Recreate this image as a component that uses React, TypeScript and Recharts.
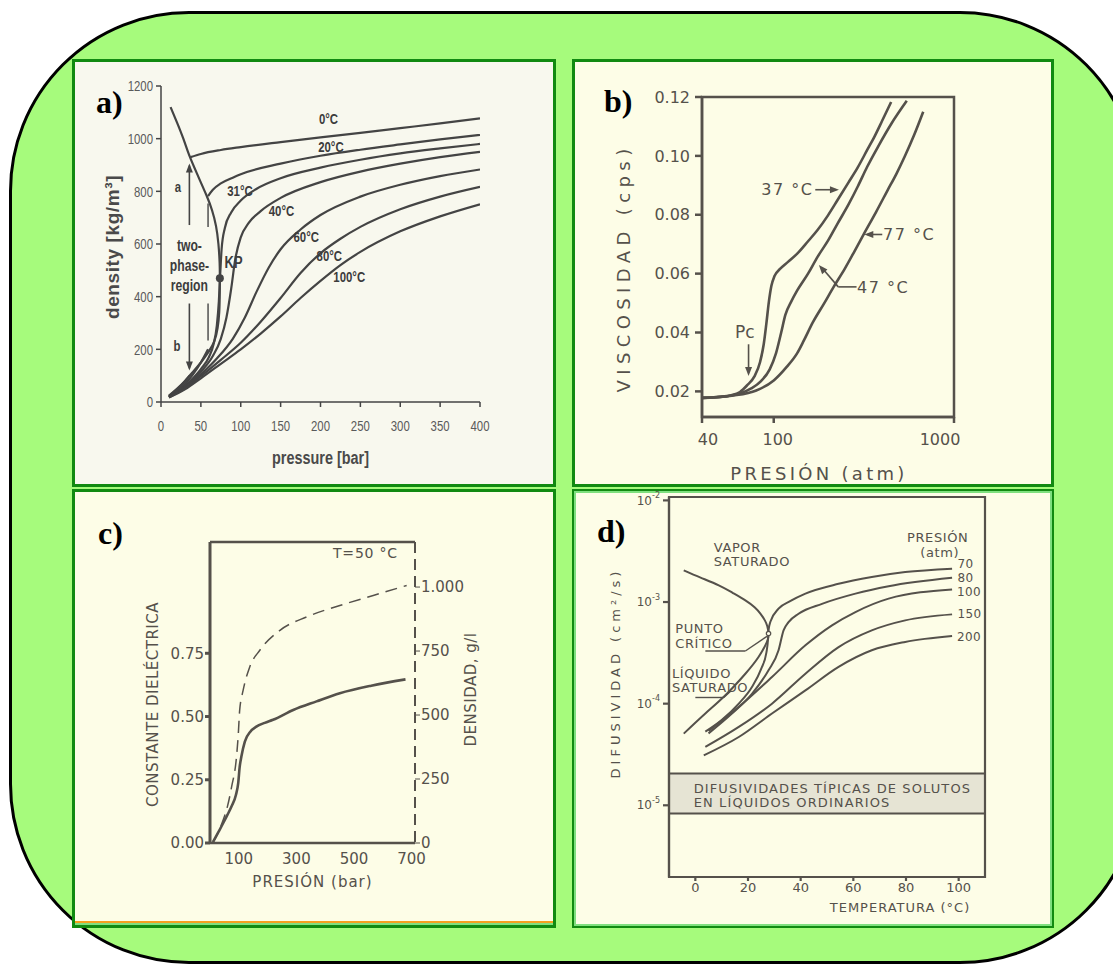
import {
  LineChart,
  Line,
  XAxis,
  YAxis,
  ReferenceDot,
  ReferenceLine,
  ReferenceArea,
} from 'recharts'

type Pt = [number, number]

const INK_A = '#444444'
const INK = '#55514b'
const FONT_A = "'Liberation Sans', Arial, sans-serif"
const FONT_B = "'DejaVu Sans', Verdana, sans-serif"

// condensed look for the Arial-style lettering of chart a
const narrow = (origin = 'center', extra = '') => ({
  transformBox: 'fill-box',
  transformOrigin: origin,
  transform: `${extra} scaleX(0.76)`,
})

// a) CO2 density isotherms: pressure [bar] vs density [kg/m3]
const PRESSURE_TICKS = [0, 50, 100, 150, 200, 250, 300, 350, 400]
const DENSITY_TICKS = [0, 200, 400, 600, 800, 1000, 1200]
const SAT_DOME: Pt[] = [
  [12, 1120], [20, 1062], [28, 1000], [35, 940], [45, 868], [57, 785], [64, 728], [69, 668],
  [72, 600], [73.5, 530], [73.8, 470], [73.6, 400], [73, 340], [71, 282], [67, 232], [60, 192],
  [50, 150], [40, 114], [30, 80], [20, 50], [10, 24],
]
const ISO_0_GAS: Pt[] = [[10, 22], [20, 48], [30, 78], [36, 100]]
const ISO_0_LIQ: Pt[] = [
  [37, 930], [50, 942], [75, 957], [100, 968], [150, 987], [200, 1005], [250, 1022], [300, 1040], [350, 1058], [400, 1077],
]
const ISO_20_GAS: Pt[] = [[10, 21], [30, 68], [50, 150], [59, 200]]
const ISO_20_LIQ: Pt[] = [
  [59, 782], [65, 806], [75, 830], [90, 852], [100, 865], [150, 905], [200, 935], [250, 958], [300, 978], [350, 997], [400, 1014],
]
const ISO_31: Pt[] = [
  [10, 20], [30, 62], [50, 125], [60, 170], [66, 220], [70, 290], [72.5, 380], [74, 470], [76, 580], [80, 660],
  [88, 720], [100, 765], [120, 810], [150, 850], [200, 890], [250, 920], [300, 944], [350, 963], [400, 980],
]
const ISO_40: Pt[] = [
  [10, 19], [30, 58], [50, 115], [65, 175], [75, 240], [82, 320], [88, 430], [93, 540], [100, 625], [110, 680],
  [125, 725], [150, 775], [200, 835], [250, 875], [300, 905], [350, 930], [400, 950],
]
const ISO_60: Pt[] = [
  [10, 18], [30, 55], [50, 105], [70, 165], [90, 240], [105, 320], [120, 420], [135, 510], [150, 580], [175, 655],
  [200, 710], [250, 780], [300, 825], [350, 858], [400, 883],
]
const ISO_80: Pt[] = [
  [10, 18], [30, 52], [50, 98], [75, 160], [100, 225], [125, 305], [150, 395], [175, 490], [200, 565], [225, 620],
  [250, 665], [300, 732], [350, 780], [400, 817],
]
const ISO_100: Pt[] = [
  [10, 17], [30, 48], [50, 90], [75, 145], [100, 200], [125, 260], [150, 325], [175, 395], [200, 460], [225, 520],
  [250, 570], [300, 648], [350, 705], [400, 751],
]
const CRITICAL_POINT: Pt = [73.8, 470]

// b) viscosity vs pressure (log)
const PRES_ATM_TICKS = [40, 100, 1000]
const VISC_TICKS = [0.02, 0.04, 0.06, 0.08, 0.1, 0.12]
const VISC_37: Pt[] = [
  [40, 0.0178], [50, 0.0181], [57.5, 0.0186], [65, 0.0198], [71, 0.022], [78, 0.025], [84, 0.03], [88, 0.036],
  [91, 0.043], [94, 0.0505], [97, 0.0558], [101, 0.0592], [108, 0.0615], [120, 0.064], [135, 0.0668], [155, 0.071],
  [175, 0.0748], [200, 0.0798], [226, 0.085], [260, 0.091], [292, 0.096], [330, 0.102], [361, 0.1064], [400, 0.112], [448, 0.1183],
]
const VISC_47: Pt[] = [
  [40, 0.0178], [55, 0.0184], [65, 0.0193], [75, 0.021], [85, 0.0235], [95, 0.0275], [103, 0.033], [110, 0.04],
  [116, 0.046], [125, 0.0505], [135, 0.0543], [155, 0.06], [175, 0.0657], [200, 0.0712], [226, 0.077], [260, 0.0835],
  [292, 0.0895], [330, 0.0963], [378, 0.103], [450, 0.111], [547, 0.1187],
]
const VISC_77: Pt[] = [
  [40, 0.0178], [60, 0.0186], [80, 0.0203], [100, 0.0237], [118, 0.0283], [135, 0.033], [147, 0.0373], [165, 0.0435],
  [190, 0.0498], [215, 0.0555], [248, 0.0617], [280, 0.0675], [317, 0.0736], [370, 0.081], [428, 0.0883], [480, 0.094],
  [532, 0.0997], [600, 0.107], [675, 0.115],
]

// c) dielectric constant and density at 50 °C
const PRES_BAR_TICKS = [100, 300, 500, 700]
const DIEL_TICKS = [0, 0.25, 0.5, 0.75]
const DENS_TICKS = [0, 250, 500, 750, 1000]
const DIELECTRIC: Pt[] = [
  [10, 0.003], [30, 0.045], [46, 0.079], [60, 0.11], [75, 0.145], [90, 0.19], [98, 0.237], [103, 0.3], [109, 0.342],
  [121, 0.401], [140, 0.44], [161, 0.46], [190, 0.475], [219, 0.487], [289, 0.526], [370, 0.56], [451, 0.592], [560, 0.622], [679, 0.647],
]
const DENSITY_50: Pt[] = [
  [10, 0], [30, 45], [45, 88], [60, 140], [75, 219], [92, 336], [98, 420], [103, 518], [115, 596], [138, 688],
  [173, 753], [243, 831], [335, 883], [451, 928], [567, 967], [683, 1006],
]

// d) diffusivity vs temperature for several pressures (atm)
const TEMP_TICKS = [0, 20, 40, 60, 80, 100]
const DIFF_TICKS = [1e-5, 1e-4, 1e-3, 1e-2]
const SOLUTE_BAND = [8.3e-6, 2.05e-5]
const DIFF_DOME: Pt[] = [
  [-4.4, 2.05e-3], [2, 1.74e-3], [8.9, 1.46e-3], [14, 1.24e-3], [19, 1.04e-3], [22.5, 8.9e-4], [24.7, 7.7e-4],
  [26.4, 6.6e-4], [27.3, 5.8e-4], [27.8, 4.9e-4], [27.2, 4.05e-4], [24, 2.88e-4], [19, 1.97e-4], [11.4, 1.21e-4],
  [3.8, 8.0e-5], [-4.4, 5.07e-5],
]
const DIFF_70: Pt[] = [
  [3.8, 5.3e-5], [10, 6.9e-5], [16.5, 1.0e-4], [21.5, 1.46e-4], [25, 2.2e-4], [27, 3.2e-4], [27.6, 4.3e-4], [27.8, 5.3e-4],
  [28.5, 6.4e-4], [31.6, 8.6e-4], [36, 1.02e-3], [41.8, 1.21e-3], [54.4, 1.51e-3], [67, 1.76e-3], [79.7, 1.97e-3], [97.5, 2.13e-3],
]
const DIFF_80: Pt[] = [
  [5, 5.1e-5], [13.9, 8.0e-5], [21.5, 1.25e-4], [27.8, 2.13e-4], [31.6, 3.35e-4], [33.5, 5.26e-4], [35.4, 6.35e-4],
  [39.2, 7.67e-4], [48.1, 9.6e-4], [60.8, 1.21e-3], [73.4, 1.43e-3], [97.5, 1.73e-3],
]
const DIFF_100: Pt[] = [
  [5, 5.4e-5], [16.5, 9.3e-5], [29.1, 1.83e-4], [41.8, 3.75e-4], [51.9, 5.9e-4], [60.8, 7.97e-4], [73.4, 1.08e-3], [97.5, 1.33e-3],
]
const DIFF_150: Pt[] = [
  [3.8, 3.75e-5], [16.5, 5.9e-5], [29.1, 1.0e-4], [41.8, 1.97e-4], [54.4, 3.6e-4], [67, 5.26e-4], [79.7, 6.6e-4], [97.5, 7.56e-4],
]
const DIFF_200: Pt[] = [
  [3.2, 3.1e-5], [16.5, 4.7e-5], [29.1, 8.0e-5], [41.8, 1.35e-4], [54.4, 2.3e-4], [67, 3.35e-4], [79.7, 4.05e-4], [97.5, 4.63e-4],
]

const pts = (a: Pt[]) => a.map(([x, y]) => ({ x, y }))

type NoteOpts = {
  anchor?: 'start' | 'middle' | 'end'
  size?: number
  weight?: number
  font?: string
  ls?: number
  fill?: string
  yAxisId?: string | number
  style?: Record<string, string>
}

function note(key: string, x: number, y: number, text: string, o: NoteOpts = {}) {
  const position = o.anchor === 'start' ? 'right' : o.anchor === 'end' ? 'left' : 'center'
  return (
    <ReferenceDot
      key={key}
      x={x}
      y={y}
      r={0}
      ifOverflow="visible"
      yAxisId={o.yAxisId ?? 0}
      fill="none"
      stroke="none"
      label={{
        value: text,
        position,
        offset: 0,
        fill: o.fill ?? INK,
        fontSize: o.size ?? 14,
        fontWeight: o.weight ?? 400,
        fontFamily: o.font ?? FONT_B,
        letterSpacing: o.ls ?? 0,
        style: o.style,
      }}
    />
  )
}

// triangle tip sits on (x, y), pointing along deg (0 = right, 90 = down)
function head(key: string, x: number, y: number, deg: number, fill: string) {
  return (
    <ReferenceDot
      key={key}
      x={x}
      y={y}
      r={1}
      ifOverflow="visible"
      shape={(p: any) => (
        <path d="M0,0 L-9,-3.5 L-9,3.5 Z" transform={`translate(${p.cx},${p.cy}) rotate(${deg})`} fill={fill} />
      )}
    />
  )
}

function seg(key: string, a: Pt, b: Pt, color: string, width = 1.6) {
  return (
    <ReferenceLine
      key={key}
      segment={[{ x: a[0], y: a[1] }, { x: b[0], y: b[1] }]}
      stroke={color}
      strokeWidth={width}
      ifOverflow="visible"
    />
  )
}

function DensityChart() {
  const curves = [SAT_DOME, ISO_0_GAS, ISO_0_LIQ, ISO_20_GAS, ISO_20_LIQ, ISO_31, ISO_40, ISO_60, ISO_80, ISO_100]
  const bold = { size: 15, weight: 700, font: FONT_A, fill: '#3c3c3c', style: narrow() }
  return (
    <LineChart width={478} height={422} margin={{ top: 24, right: 73, bottom: 0, left: 0 }}>
      <XAxis
        dataKey="x"
        type="number"
        domain={[0, 400]}
        ticks={PRESSURE_TICKS}
        allowDataOverflow
        height={82}
        tickSize={5}
        tickMargin={13}
        stroke={INK_A}
        strokeWidth={1.5}
        tick={{ fontSize: 15, fill: '#5a5a5a', fontFamily: FONT_A, style: narrow() }}
        label={{
          value: 'pressure [bar]',
          position: 'insideTop',
          offset: 49,
          fontSize: 19,
          fontWeight: 700,
          fill: '#4a4a4a',
          fontFamily: FONT_A,
          style: narrow(),
        }}
      />
      <YAxis
        dataKey="y"
        type="number"
        domain={[0, 1200]}
        ticks={DENSITY_TICKS}
        allowDataOverflow
        width={86}
        tickSize={5}
        tickMargin={3}
        stroke={INK_A}
        strokeWidth={1.5}
        tick={{ fontSize: 15, fill: '#5a5a5a', fontFamily: FONT_A, style: narrow('right center') }}
        label={{
          value: 'density [kg/m³]',
          angle: -90,
          position: 'insideLeft',
          offset: 37,
          dy: 3,
          fontSize: 19,
          fontWeight: 700,
          fill: '#4a4a4a',
          fontFamily: FONT_A,
          letterSpacing: 0.6,
          style: { textAnchor: 'middle' },
        }}
      />
      {curves.map((c, i) => (
        <Line
          key={i}
          data={pts(c)}
          dataKey="y"
          type={i === 0 ? 'natural' : 'monotone'}
          stroke={INK_A}
          strokeWidth={2.2}
          dot={false}
          activeDot={false}
          isAnimationActive={false}
        />
      ))}
      {seg('d1', [59, 665], [59, 754], INK_A, 1.4)}
      {seg('d2', [59, 234], [59, 374], INK_A, 1.4)}
      {seg('aa', [35.6, 672], [35.6, 898], INK_A, 1.6)}
      {head('ah', 35.6, 906, -90, INK_A)}
      {seg('ba', [35.6, 374], [35.6, 128], INK_A, 1.6)}
      {head('bh', 35.6, 120, 90, INK_A)}
      <ReferenceDot x={CRITICAL_POINT[0]} y={CRITICAL_POINT[1]} r={4} fill={INK_A} stroke="none" />
      {note('t0', 210, 1077, '0°C', bold)}
      {note('t20', 213, 969, '20°C', bold)}
      {note('t31', 99, 802, '31°C', bold)}
      {note('t40', 151, 726, '40°C', bold)}
      {note('t60', 182, 627, '60°C', bold)}
      {note('t80', 211, 557, '80°C', bold)}
      {note('t100', 236, 475, '100°C', bold)}
      {note('kp', 91, 530, 'KP', { ...bold, size: 17 })}
      {note('tp1', 35.6, 596, 'two-', { ...bold, size: 16 })}
      {note('tp2', 35.6, 520, 'phase-', { ...bold, size: 16 })}
      {note('tp3', 35.6, 443, 'region', { ...bold, size: 16 })}
      {note('la', 21, 817, 'a', { ...bold, size: 15 })}
      {note('lb', 20, 215, 'b', { ...bold, size: 15 })}
    </LineChart>
  )
}

function LogTick({ x, y, payload }: any) {
  const shift = payload.value === 1000 ? -14 : payload.value === 40 ? 6 : 4
  return (
    <text x={x + shift} y={y} dy="0.71em" textAnchor="middle" fill={INK} fontFamily={FONT_B} fontSize={16}>
      {payload.value}
    </text>
  )
}

function ViscosityChart() {
  const series = [VISC_37, VISC_47, VISC_77]
  const lbl = { size: 16, ls: 1.5 }
  return (
    <LineChart width={476} height={422} margin={{ top: 35, right: 97, bottom: 0, left: 0 }}>
      <XAxis
        dataKey="x"
        type="number"
        scale="log"
        domain={[40, 1000]}
        ticks={PRES_ATM_TICKS}
        allowDataOverflow
        height={67}
        tickSize={6}
        tickMargin={11}
        stroke={INK}
        strokeWidth={2.5}
        tick={<LogTick />}
        label={{ value: 'PRESIÓN (atm)', position: 'insideTop', offset: 50, dx: -9, fontSize: 18, fill: INK, fontFamily: FONT_B, letterSpacing: 3.3 }}
      />
      <YAxis
        dataKey="y"
        type="number"
        domain={[0.0113, 0.12]}
        ticks={VISC_TICKS}
        allowDataOverflow
        width={127}
        tickSize={7}
        tickMargin={5}
        stroke={INK}
        strokeWidth={2.5}
        tickFormatter={(v: number) => v.toFixed(2)}
        tick={{ fontSize: 16, fill: INK, fontFamily: FONT_B }}
        label={{
          value: 'VISCOSIDAD (cps)',
          angle: -90,
          position: 'insideLeft',
          offset: 49,
          dy: 11,
          fontSize: 18,
          fill: INK,
          fontFamily: FONT_B,
          letterSpacing: 5.4,
          style: { textAnchor: 'middle' },
        }}
      />
      <ReferenceArea x1={40} x2={1000} y1={0.0113} y2={0.12} fill="none" stroke={INK} strokeWidth={2.5} ifOverflow="visible" />
      {series.map((s, i) => (
        <Line
          key={i}
          data={pts(s)}
          dataKey="y"
          type="monotone"
          stroke={INK}
          strokeWidth={2.6}
          dot={false}
          activeDot={false}
          isAnimationActive={false}
        />
      ))}
      {note('l37', 166, 0.0885, '37 °C', { ...lbl, anchor: 'end' })}
      {seg('a37', [170, 0.0885], [222, 0.0885], INK, 1.6)}
      {head('h37', 230, 0.0885, 0, INK)}
      {note('l77', 404, 0.0733, '77 °C', { ...lbl, anchor: 'start' })}
      {seg('a77', [400, 0.0733], [330, 0.0733], INK, 1.6)}
      {head('h77', 318, 0.0733, 180, INK)}
      {note('l47', 290, 0.0555, '47 °C', { ...lbl, anchor: 'start' })}
      {seg('a47a', [288, 0.0555], [228, 0.0555], INK, 1.6)}
      {seg('a47b', [228, 0.0555], [185, 0.062], INK, 1.6)}
      {head('h47', 178, 0.0629, -131, INK)}
      {note('pc', 69, 0.0402, 'Pc', { size: 17 })}
      {seg('apc', [72.5, 0.036], [72.5, 0.0275], INK, 1.6)}
      {head('hpc', 72.5, 0.0252, 90, INK)}
    </LineChart>
  )
}

function DielectricChart() {
  const tickStyle = { fontSize: 15, fill: INK, fontFamily: FONT_B }
  return (
    <LineChart width={478} height={433} margin={{ top: 50, right: 0, bottom: 0, left: 0 }}>
      <XAxis
        dataKey="x"
        type="number"
        domain={[0, 712]}
        ticks={PRES_BAR_TICKS}
        allowDataOverflow
        height={82}
        tickSize={0}
        tickMargin={10}
        stroke={INK}
        strokeWidth={2.5}
        tick={tickStyle}
        label={{ value: 'PRESIÓN (bar)', position: 'insideTop', offset: 33, fontSize: 15, fill: INK, fontFamily: FONT_B, letterSpacing: 1 }}
      />
      <YAxis
        yAxisId="l"
        dataKey="y"
        type="number"
        domain={[0, 1.19]}
        ticks={DIEL_TICKS}
        allowDataOverflow
        width={135}
        tickSize={5}
        tickMargin={1}
        stroke={INK}
        strokeWidth={3}
        tickFormatter={(v: number) => v.toFixed(2)}
        tick={tickStyle}
        label={{
          value: 'CONSTANTE DIELÉCTRICA',
          angle: -90,
          position: 'insideLeft',
          offset: 78,
          dy: 12,
          fontSize: 15,
          fill: INK,
          fontFamily: FONT_B,
          letterSpacing: 0.5,
          style: { textAnchor: 'middle' },
        }}
      />
      <YAxis
        yAxisId="r"
        orientation="right"
        dataKey="y"
        type="number"
        domain={[0, 1176]}
        ticks={DENS_TICKS}
        allowDataOverflow
        width={138}
        tickSize={5}
        tickMargin={1}
        stroke={INK}
        axisLine={{ stroke: INK, strokeWidth: 2, strokeDasharray: '11 6' }}
        tickFormatter={(v: number) => (v === 1000 ? '1.000' : String(v))}
        tick={tickStyle}
        label={{
          value: 'DENSIDAD, g/l',
          angle: -90,
          position: 'insideRight',
          offset: 82,
          dy: -3,
          fontSize: 15,
          fill: INK,
          fontFamily: FONT_B,
          letterSpacing: 0.5,
          style: { textAnchor: 'middle' },
        }}
      />
      <ReferenceLine yAxisId="l" y={1.19} stroke={INK} strokeWidth={2.5} ifOverflow="visible" />
      <Line
        yAxisId="l"
        data={pts(DIELECTRIC)}
        dataKey="y"
        type="monotone"
        stroke={INK}
        strokeWidth={2.6}
        dot={false}
        activeDot={false}
        isAnimationActive={false}
      />
      <Line
        yAxisId="r"
        data={pts(DENSITY_50)}
        dataKey="y"
        type="monotone"
        stroke={INK}
        strokeWidth={1.5}
        strokeDasharray="12 7"
        dot={false}
        activeDot={false}
        isAnimationActive={false}
      />
      {note('t50', 540, 1.146, 'T=50 °C', { size: 14, ls: 0.8, yAxisId: 'l' })}
    </LineChart>
  )
}

function PowTick({ x, y, payload }: any) {
  const e = Math.round(Math.log10(payload.value))
  return (
    <text x={x} y={y} textAnchor="end" fill={INK} fontFamily={FONT_B} fontSize={12}>
      <tspan dy="0.35em">10</tspan>
      <tspan dy="-0.8em" fontSize={8}>{'-' + Math.abs(e)}</tspan>
    </text>
  )
}

function DiffusivityChart() {
  const isobars = [DIFF_70, DIFF_80, DIFF_100, DIFF_150, DIFF_200]
  const txt = { size: 13, ls: 0.6, anchor: 'start' as const }
  const num = { ...txt, size: 12, ls: 0.3 }
  return (
    <LineChart width={478} height={435} margin={{ top: 6, right: 67, bottom: 0, left: 0 }}>
      <XAxis
        dataKey="x"
        type="number"
        domain={[-10, 110]}
        ticks={TEMP_TICKS}
        allowDataOverflow
        height={49}
        tickSize={4}
        tickMargin={2}
        stroke={INK}
        strokeWidth={2.2}
        tick={{ fontSize: 13, fill: INK, fontFamily: FONT_B }}
        label={{ value: 'TEMPERATURA (°C)', position: 'insideTop', offset: 26, dx: 73, fontSize: 13, fill: INK, fontFamily: FONT_B, letterSpacing: 1 }}
      />
      <YAxis
        dataKey="y"
        type="number"
        scale="log"
        domain={[1.97e-6, 0.0108]}
        ticks={DIFF_TICKS}
        allowDataOverflow
        width={95}
        tickSize={6}
        tickMargin={3}
        stroke={INK}
        strokeWidth={2.2}
        tick={<PowTick />}
        label={{
          value: 'DIFUSIVIDAD (cm²/s)',
          angle: -90,
          position: 'insideLeft',
          offset: 41,
          dy: -14,
          fontSize: 13,
          fill: INK,
          fontFamily: FONT_B,
          letterSpacing: 4,
          style: { textAnchor: 'middle' },
        }}
      />
      <ReferenceArea y1={SOLUTE_BAND[0]} y2={SOLUTE_BAND[1]} fill="#e6e4d4" fillOpacity={1} stroke="none" ifOverflow="visible" />
      <ReferenceLine y={SOLUTE_BAND[0]} stroke={INK} strokeWidth={2} />
      <ReferenceLine y={SOLUTE_BAND[1]} stroke={INK} strokeWidth={2} />
      <ReferenceArea x1={-10} x2={110} y1={1.97e-6} y2={0.0108} fill="none" stroke={INK} strokeWidth={2.2} ifOverflow="visible" />
      <Line
        data={pts(DIFF_DOME)}
        dataKey="y"
        type="natural"
        stroke={INK}
        strokeWidth={2}
        dot={false}
        activeDot={false}
        isAnimationActive={false}
      />
      {isobars.map((s, i) => (
        <Line
          key={i}
          data={pts(s)}
          dataKey="y"
          type="monotone"
          stroke={INK}
          strokeWidth={2}
          dot={false}
          activeDot={false}
          isAnimationActive={false}
        />
      ))}
      <ReferenceDot x={27.8} y={4.9e-4} r={2.2} fill="#fdfde6" stroke={INK} strokeWidth={1.2} />
      {seg('pc1', [3.8, 3.3e-4], [19, 3.3e-4], INK, 1.4)}
      {seg('pc2', [19, 3.3e-4], [27.2, 4.6e-4], INK, 1.4)}
      {seg('ls1', [0, 1.15e-4], [10.8, 1.15e-4], INK, 1.4)}
      {seg('ls2', [10.8, 1.15e-4], [13.5, 1.33e-4], INK, 1.4)}
      {note('vp1', 7, 3.48e-3, 'VAPOR', txt)}
      {note('vp2', 7, 2.53e-3, 'SATURADO', txt)}
      {note('pu1', -7.6, 5.46e-4, 'PUNTO', txt)}
      {note('pu2', -7.6, 3.89e-4, 'CRÍTICO', txt)}
      {note('lq1', -8.9, 1.97e-4, 'LÍQUIDO', txt)}
      {note('lq2', -8.9, 1.44e-4, 'SATURADO', txt)}
      {note('pr1', 80.4, 4.36e-3, 'PRESIÓN', txt)}
      {note('pr2', 85.4, 3.1e-3, '(atm)', txt)}
      {note('p70', 99.6, 2.4e-3, '70', num)}
      {note('p80', 99.6, 1.72e-3, '80', num)}
      {note('p100', 99.4, 1.25e-3, '100', num)}
      {note('p150', 99.6, 7.67e-4, '150', num)}
      {note('p200', 99.4, 4.53e-4, '200', num)}
      {note('bd1', -0.6, 1.47e-5, 'DIFUSIVIDADES TÍPICAS DE SOLUTOS', { ...txt, ls: 1.1 })}
      {note('bd2', -0.6, 1.08e-5, 'EN LÍQUIDOS ORDINARIOS', { ...txt, ls: 1.1 })}
    </LineChart>
  )
}

const panelBase = {
  position: 'absolute' as const,
  boxSizing: 'border-box' as const,
  overflow: 'hidden' as const,
}

function Tag({ x, y, text }: { x: number; y: number; text: string }) {
  return (
    <div
      style={{
        position: 'absolute',
        left: x,
        top: y,
        fontFamily: "'Liberation Serif', 'Times New Roman', serif",
        fontWeight: 700,
        fontSize: 32,
        lineHeight: '32px',
        color: '#000',
        zIndex: 2,
      }}
    >
      {text}
    </div>
  )
}

export default function App() {
  return (
    <div style={{ position: 'absolute', left: 0, top: 0, width: 1113, height: 964, overflow: 'hidden', background: '#fff' }}>
      <div
        style={{
          position: 'absolute',
          left: 9,
          top: 11,
          width: 1131,
          height: 953,
          boxSizing: 'border-box',
          border: '3px solid #000',
          borderRadius: 180,
          background: '#a6fb7c',
        }}
      />
      <div style={{ ...panelBase, left: 72, top: 59, width: 484, height: 428, border: '3px solid #118a11', background: '#f8f8ee' }}>
        <DensityChart />
      </div>
      <div style={{ ...panelBase, left: 572, top: 59, width: 482, height: 428, border: '3px solid #118a11', background: '#fdfde7' }}>
        <ViscosityChart />
      </div>
      <div style={{ ...panelBase, left: 72, top: 489, width: 484, height: 439, border: '3px solid #118a11', background: '#fdfde7' }}>
        <DielectricChart />
        <div style={{ position: 'absolute', left: 0, right: 0, bottom: 0, height: 2, background: '#7fe07f' }} />
        <div style={{ position: 'absolute', left: 0, right: 0, bottom: 2, height: 2, background: '#f5a020' }} />
      </div>
      <div
        style={{
          ...panelBase,
          left: 572,
          top: 489,
          width: 482,
          height: 439,
          border: '2px solid #118a11',
          boxShadow: 'inset 0 0 0 2px #7fe07f',
          background: '#fdfde7',
        }}
      >
        <DiffusivityChart />
      </div>
      <Tag x={96} y={86} text="a)" />
      <Tag x={604} y={85} text="b)" />
      <Tag x={98} y={517} text="c)" />
      <Tag x={597} y={515} text="d)" />
    </div>
  )
}
